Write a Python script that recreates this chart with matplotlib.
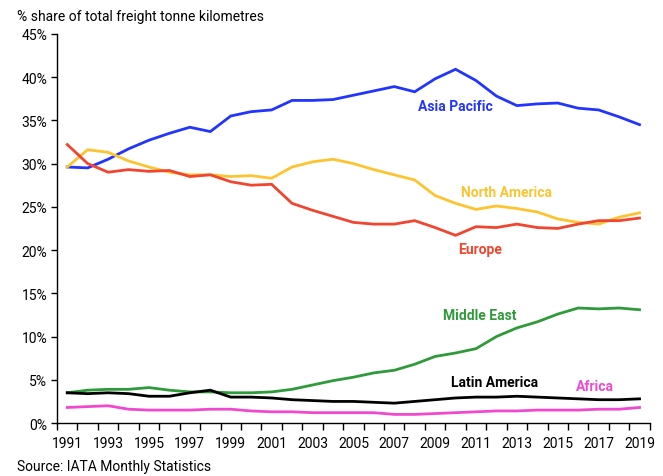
import numpy as np
import matplotlib.pyplot as plt
from matplotlib.ticker import FixedLocator, PercentFormatter

plt.rcParams['font.family'] = ['Roboto', 'DejaVu Sans']

years = list(range(1991, 2020))

# shares in % of total freight tonne km
asia_pacific = [29.6, 29.5, 30.5, 31.7, 32.7, 33.5, 34.2, 33.7, 35.5, 36.0,
                36.2, 37.3, 37.3, 37.4, 37.9, 38.4, 38.9, 38.3, 39.8, 40.9,
                39.6, 37.8, 36.7, 36.9, 37.0, 36.4, 36.2, 35.4, 34.5]
europe = [32.2, 30.0, 29.0, 29.3, 29.1, 29.2, 28.5, 28.7, 27.9, 27.5,
          27.6, 25.4, 24.6, 23.9, 23.2, 23.0, 23.0, 23.4, 22.6, 21.7,
          22.7, 22.6, 23.0, 22.6, 22.5, 23.0, 23.4, 23.4, 23.7]
north_america = [29.6, 31.6, 31.3, 30.3, 29.6, 29.0, 28.7, 28.7, 28.5, 28.6,
                 28.3, 29.6, 30.2, 30.5, 30.0, 29.3, 28.7, 28.1, 26.3, 25.4,
                 24.7, 25.1, 24.8, 24.4, 23.6, 23.2, 23.0, 23.8, 24.3]
middle_east = [3.5, 3.8, 3.9, 3.9, 4.1, 3.8, 3.6, 3.6, 3.5, 3.5,
               3.6, 3.9, 4.4, 4.9, 5.3, 5.8, 6.1, 6.8, 7.7, 8.1,
               8.6, 10.0, 11.0, 11.7, 12.6, 13.3, 13.2, 13.3, 13.1]
latin_america = [3.5, 3.4, 3.5, 3.4, 3.1, 3.1, 3.5, 3.8, 3.0, 3.0,
                 2.9, 2.7, 2.6, 2.5, 2.5, 2.4, 2.3, 2.5, 2.7, 2.9,
                 3.0, 3.0, 3.1, 3.0, 2.9, 2.8, 2.7, 2.7, 2.8]
africa = [1.8, 1.9, 2.0, 1.6, 1.5, 1.5, 1.5, 1.6, 1.6, 1.4,
          1.3, 1.3, 1.2, 1.2, 1.2, 1.2, 1.0, 1.0, 1.1, 1.2,
          1.3, 1.4, 1.4, 1.5, 1.5, 1.5, 1.6, 1.6, 1.8]

series = [
    ("Asia Pacific", asia_pacific, "#2234ff", 2010.0, 36.7),
    ("North America", north_america, "#fcc431", 2012.5, 26.7),
    ("Europe", europe, "#f0452f", 2011.2, 20.1),
    ("Middle East", middle_east, "#2e9a3a", 2011.2, 12.5),
    ("Latin America", latin_america, "#000000", 2011.9, 4.7),
    ("Africa", africa, "#f049cf", 2016.8, 4.3),
]

fig = plt.figure(figsize=(6.63, 4.77), dpi=100)
ax = fig.add_axes([0.086, 0.111, 0.894, 0.816])

for name, vals, col, lx, ly in series:
    ax.plot(years, vals, color=col, lw=2.0, solid_joinstyle='miter')
    ax.text(lx, ly, name, color=col, fontsize=10, fontweight='bold',
            ha='center', va='center')

ax.set_xlim(1990.5, 2019.5)
ax.set_ylim(0, 45)
ax.set_yticks(np.arange(0, 46, 5))
ax.yaxis.set_major_formatter(PercentFormatter(decimals=0))
ax.set_xticks(years[::2])
ax.xaxis.set_minor_locator(FixedLocator(np.arange(1990.5, 2020, 1)))
ax.tick_params(axis='x', which='major', length=0, pad=9, labelsize=10)
ax.tick_params(axis='x', which='minor', length=5, width=1)
ax.tick_params(axis='y', length=4, width=1, labelsize=10, pad=3)

for s in ['top', 'right']:
    ax.spines[s].set_visible(False)
for s in ['left', 'bottom']:
    ax.spines[s].set_linewidth(1)

fig.text(0.026, 0.965, "% share of total freight tonne kilometres",
         fontsize=10, ha='left', va='center')
fig.text(0.026, 0.022, "Source: IATA Monthly Statistics",
         fontsize=10, ha='left', va='center')

fig.savefig("out.png", dpi=100)
